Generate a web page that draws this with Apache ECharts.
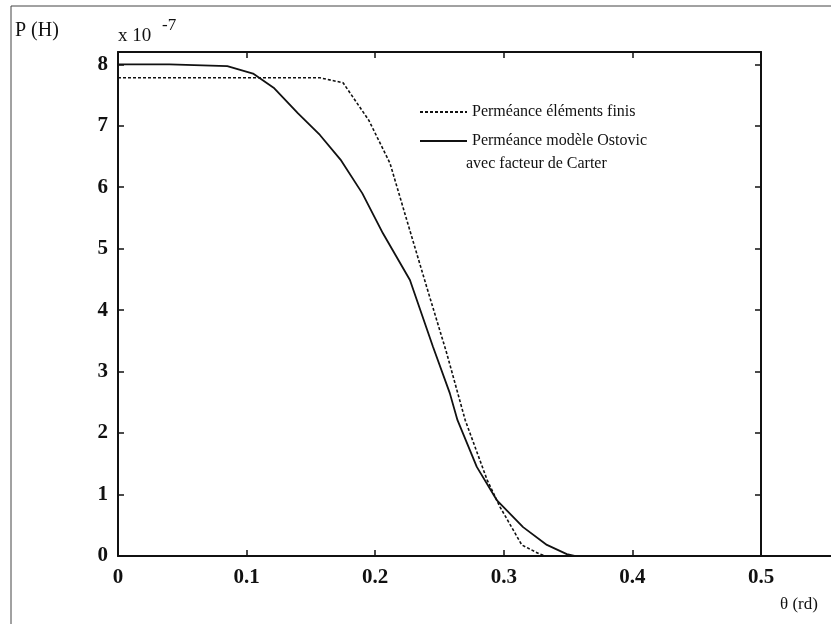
<!DOCTYPE html>
<html>
<head>
<meta charset="utf-8">
<script src="https://cdn.jsdelivr.net/npm/echarts@6/dist/echarts.min.js"></script>
<style>
  html, body { margin: 0; padding: 0; background: #fff; }
  #chart { width: 831px; height: 624px; }
</style>
</head>
<body>
<div id="chart"></div>
<script>
// Angle θ (rd) and permeance P (H, in units of 1e-7)
const thetaFE = [0, 0.05, 0.10, 0.157, 0.175, 0.195, 0.2115, 0.2245, 0.240, 0.2556, 0.27, 0.287, 0.297, 0.314, 0.328, 0.333, 0.5];
const permFE  = [7.78, 7.78, 7.78, 7.78, 7.70, 7.09, 6.39, 5.47, 4.38, 3.30, 2.21, 1.24, 0.80, 0.18, 0.03, 0, 0];

const thetaOst = [0, 0.04, 0.085, 0.105, 0.121, 0.14, 0.157, 0.173, 0.19, 0.206, 0.227, 0.245, 0.258, 0.264, 0.279, 0.2945, 0.315, 0.3335, 0.349, 0.355, 0.5];
const permOst  = [8.0, 8.0, 7.97, 7.85, 7.62, 7.2, 6.85, 6.45, 5.9, 5.25, 4.49, 3.40, 2.65, 2.21, 1.45, 0.91, 0.47, 0.18, 0.03, 0, 0];

const xTicks = [0, 0.1, 0.2, 0.3, 0.4, 0.5];
const yTicks = [0, 1, 2, 3, 4, 5, 6, 7, 8];

const seriesNames = ['Perméance éléments finis', 'Perméance modèle Ostovic'];
const legendExtra = 'avec facteur de Carter';

const serif = '"Liberation Serif", "Times New Roman", serif';
const ink = '#111';

const pairs = (xs, ys) => xs.map((x, i) => [x, ys[i]]);

const chart = echarts.init(document.getElementById('chart'), null, { renderer: 'canvas' });

const boxAxisLine = { show: true, onZero: false, lineStyle: { color: ink, width: 2 } };
const innerTick = { show: true, inside: true, length: 6, lineStyle: { color: ink, width: 1.5 } };

chart.setOption({
  animation: false,
  backgroundColor: '#fff',
  grid: [
    { left: 118, right: 70, top: 52, bottom: 68 },
    { left: 761, right: 0, top: 52, bottom: 68 }
  ],
  xAxis: [
    {
      type: 'value', gridIndex: 0, position: 'bottom',
      min: xTicks[0], max: xTicks[xTicks.length - 1], interval: 0.1,
      axisLine: boxAxisLine, axisTick: innerTick, splitLine: { show: false },
      axisLabel: {
        margin: 11, color: ink, fontFamily: serif, fontWeight: 'bold', fontSize: 21,
        formatter: v => String(+v.toFixed(2))
      }
    },
    {
      type: 'value', gridIndex: 0, position: 'top',
      min: xTicks[0], max: xTicks[xTicks.length - 1], interval: 0.1,
      axisLine: boxAxisLine, axisTick: innerTick, axisLabel: { show: false }, splitLine: { show: false }
    },
    {
      type: 'value', gridIndex: 1, position: 'bottom', min: 0, max: 1,
      axisLine: boxAxisLine, axisTick: { show: false }, axisLabel: { show: false }, splitLine: { show: false }
    }
  ],
  yAxis: [
    {
      type: 'value', gridIndex: 0, position: 'left',
      min: yTicks[0], max: 8.2, interval: 1,
      axisLine: boxAxisLine, axisTick: innerTick, splitLine: { show: false },
      axisLabel: {
        margin: 10, color: ink, fontFamily: serif, fontWeight: 'bold', fontSize: 21,
        showMaxLabel: false
      }
    },
    {
      type: 'value', gridIndex: 0, position: 'right',
      min: yTicks[0], max: 8.2, interval: 1,
      axisLine: boxAxisLine, axisTick: innerTick, axisLabel: { show: false }, splitLine: { show: false }
    },
    { type: 'value', gridIndex: 1, min: 0, max: 1, show: false }
  ],
  legend: {
    left: 414, top: 99, orient: 'vertical', itemWidth: 47, itemHeight: 10, itemGap: 13,
    itemStyle: { opacity: 0 },
    textStyle: { fontFamily: serif, fontSize: 16, color: ink },
    data: seriesNames
  },
  series: [
    {
      name: seriesNames[0], type: 'line', xAxisIndex: 0, yAxisIndex: 0,
      data: pairs(thetaFE, permFE), showSymbol: false, symbol: 'none',
      lineStyle: { color: ink, width: 1.6, type: [3, 2] }, itemStyle: { color: ink }
    },
    {
      name: seriesNames[1], type: 'line', xAxisIndex: 0, yAxisIndex: 0,
      data: pairs(thetaOst, permOst), showSymbol: false, symbol: 'none',
      lineStyle: { color: ink, width: 1.8 }, itemStyle: { color: ink }
    }
  ],
  graphic: [
    // sheet frame
    { type: 'line', shape: { x1: 11, y1: 6, x2: 831, y2: 6 }, style: { stroke: '#444', lineWidth: 1 } },
    { type: 'line', shape: { x1: 11, y1: 6, x2: 11, y2: 624 }, style: { stroke: '#444', lineWidth: 1 } },
    // titles and scale factor
    { type: 'text', left: 15, top: 21, style: { text: 'P (H)', fontFamily: serif, fontSize: 20, fill: ink } },
    { type: 'text', left: 118, top: 27, style: { text: 'x 10', fontFamily: serif, fontSize: 19, fill: ink } },
    { type: 'text', left: 162, top: 17, style: { text: '-7', fontFamily: serif, fontSize: 17, fill: ink } },
    { type: 'text', left: 780, top: 596, style: { text: 'θ (rd)', fontFamily: serif, fontSize: 17, fill: ink } },
    // continuation of the second legend entry
    { type: 'text', left: 466, top: 156, style: { text: legendExtra, fontFamily: serif, fontSize: 16, fill: ink } }
  ]
});
</script>
</body>
</html>
